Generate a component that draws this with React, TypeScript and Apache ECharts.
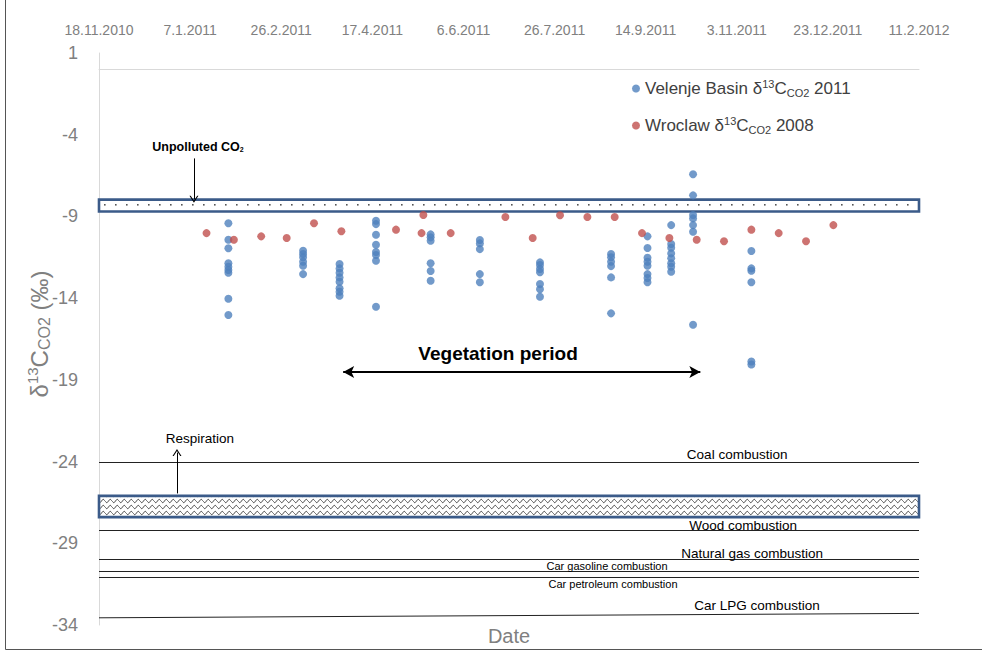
import React, { useEffect, useRef } from 'react';
import * as echarts from 'echarts';

// ---------- data ----------
const START = Date.UTC(2010, 10, 18); // 18.11.2010 = day 0 of the x axis
const X_MAX_DAYS = 450;
const X_INTERVAL_DAYS = 50;
const Y_MIN = -34;
const Y_MAX = 1;
const Y_TICKS = [-34, -29, -24, -19, -14, -9, -4, 1];

const VELENJE = 'Velenje Basin δ13CCO2 2011';
const WROCLAW = 'Wroclaw δ13CCO2 2008';

const velenjeDates = [
  '2011-01-28', '2011-03-10', '2011-03-30', '2011-04-19', '2011-05-19', '2011-06-15',
  '2011-07-18', '2011-08-26', '2011-09-15', '2011-09-28', '2011-10-10', '2011-11-11',
];
const velenjeValues = [
  [-9.42, -10.43, -10.95, -11.87, -12.08, -12.28, -12.45, -14.04, -15.03],
  [-11.1, -11.3, -11.5, -11.77, -12.02, -12.53],
  [-11.91, -12.18, -12.45, -12.73, -13.0, -13.4, -13.61, -13.85],
  [-9.26, -9.47, -10.12, -10.73, -11.18, -11.36, -11.71, -14.53],
  [-10.1, -10.28, -10.49, -11.87, -12.34, -12.94],
  [-10.44, -10.65, -11.0, -12.53, -13.03],
  [-11.81, -11.97, -12.22, -12.42, -13.14, -13.46, -13.91],
  [-11.3, -11.5, -11.77, -12.04, -12.73, -14.93],
  [-10.22, -10.93, -11.53, -11.77, -12.02, -12.53, -12.77, -13.03],
  [-9.53, -10.69, -10.92, -11.26, -11.56, -11.87, -12.08, -12.38],
  [-6.42, -7.71, -8.91, -9.12, -9.53, -9.94, -15.63],
  [-11.12, -12.18, -12.32, -13.03, -17.88, -18.06],
];

const wroclawDates = [
  '2011-01-16', '2011-01-31', '2011-02-15', '2011-03-01', '2011-03-16', '2011-03-31',
  '2011-04-30', '2011-05-14', '2011-05-15', '2011-05-30', '2011-06-29', '2011-07-14',
  '2011-07-29', '2011-08-13', '2011-08-28', '2011-09-12', '2011-09-27', '2011-10-12',
  '2011-10-27', '2011-11-11', '2011-11-26', '2011-12-11', '2011-12-26',
];
const wroclawValues = [
  -10.02, -10.43, -10.22, -10.32, -9.42, -9.91,
  -9.81, -10.02, -8.91, -10.02, -9.04, -10.32,
  -8.93, -9.04, -9.04, -10.02, -10.32, -10.43,
  -10.52, -9.81, -10.02, -10.52, -9.53,
];

// reference ranges
const unpollutedBand = [-7.97, -8.7];
const respirationBand = [-26.1, -27.4];
const sourceNames = [
  'Coal combustion', 'Wood combustion', 'Natural gas combustion',
  'Car gasoline combustion', 'Car petroleum combustion', 'Car LPG combustion',
];
const sourceValues = [-24.05, -28.23, -30.0, -30.69, -31.07, -33.56];
const lpgEndValue = -33.29;
const vegetationStart = '2011-04-01';
const vegetationEnd = '2011-10-14';

// ---------- helpers ----------
function dayOf(s: string): number {
  const [y, m, d] = s.split('-').map(Number);
  return Math.round((Date.UTC(y, m - 1, d) - START) / 86400000);
}
function formatDay(v: number): string {
  const dt = new Date(START + Math.round(v) * 86400000);
  return `${dt.getUTCDate()}.${dt.getUTCMonth() + 1}.${dt.getUTCFullYear()}`;
}
function makeDots(): HTMLCanvasElement {
  const c = document.createElement('canvas');
  c.width = 11;
  c.height = 13;
  const g = c.getContext('2d')!;
  g.fillStyle = '#ffffff';
  g.fillRect(0, 0, 11, 13);
  g.fillStyle = '#555555';
  g.fillRect(5, 9, 1.6, 1.6);
  return c;
}
function makeWaves(): HTMLCanvasElement {
  const w = 7;
  const h = 6;
  const c = document.createElement('canvas');
  c.width = w;
  c.height = h;
  const g = c.getContext('2d')!;
  g.fillStyle = '#ffffff';
  g.fillRect(0, 0, w, h);
  g.strokeStyle = '#333333';
  g.lineWidth = 1;
  g.beginPath();
  for (let i = 0; i <= 28; i++) {
    const x = (i / 28) * w;
    const y = h / 2 + 1.6 * Math.sin((x / w) * 2 * Math.PI);
    if (i === 0) g.moveTo(x, y);
    else g.lineTo(x, y);
  }
  g.stroke();
  return c;
}

const FONT = 'Liberation Sans, Arial, sans-serif';
const CHEVRON = 'path://M0,10 L5,0 L10,10 L8.6,10 L5,2.8 L1.4,10 Z';

export default function App() {
  const ref = useRef<HTMLDivElement>(null);

  useEffect(() => {
    if (!ref.current) return;
    const chart = echarts.init(ref.current, undefined, { renderer: 'svg' });

    const velenjePoints = velenjeDates.flatMap((d, i) =>
      velenjeValues[i].map((v) => [dayOf(d), v])
    );
    const wroclawPoints = wroclawDates.map((d, i) => [dayOf(d), wroclawValues[i]]);

    const supSub = {
      t: { fontSize: 17, color: '#404040', fontFamily: FONT },
      sup: { fontSize: 11, color: '#404040', fontFamily: FONT, padding: [0, 0, 10, 0] },
      sub: { fontSize: 11, color: '#404040', fontFamily: FONT, padding: [8, 0, 0, 0] },
    };

    const textMark = (text: string, day: number, value: number, size: number, bold = false) => ({
      coord: [day, value],
      value: 0,
      label: {
        show: true,
        position: 'inside',
        formatter: text,
        fontSize: size,
        fontWeight: bold ? 'bold' : 'normal',
        color: '#000',
        fontFamily: FONT,
      },
    });

    const labelDays = [350.2, 353.5, 358.4, 278.8, 282.1, 361.1];
    const labelValues = [-23.54, -27.89, -29.6, -30.4, -31.5, -32.78];
    const labelSizes = [13.5, 13.5, 13.5, 11, 11, 13.5];

    const option: any = {
      animation: false,
      backgroundColor: '#ffffff',
      grid: { left: 99, right: 63, top: 53, bottom: 26, containLabel: false },
      legend: {
        orient: 'vertical',
        left: 627,
        top: 73,
        itemWidth: 8,
        itemHeight: 8,
        itemGap: 16,
        data: [
          { name: VELENJE, icon: 'circle' },
          { name: WROCLAW, icon: 'circle' },
        ],
        formatter: (n: string) =>
          n === VELENJE
            ? '{t|Velenje Basin δ}{sup|13}{t|C}{sub|CO2}{t| 2011}'
            : '{t|Wroclaw δ}{sup|13}{t|C}{sub|CO2}{t| 2008}',
        textStyle: { rich: supSub, lineHeight: 21 },
      },
      xAxis: {
        type: 'value',
        position: 'top',
        min: 0,
        max: X_MAX_DAYS,
        interval: X_INTERVAL_DAYS,
        axisLine: { show: true, onZero: true, lineStyle: { color: '#d9d9d9', width: 1 } },
        axisTick: { show: false },
        splitLine: { show: false },
        axisLabel: {
          formatter: (v: number) => formatDay(v),
          color: '#808080',
          fontSize: 14,
          fontFamily: FONT,
          margin: 16,
        },
      },
      yAxis: {
        type: 'value',
        min: Y_MIN,
        max: Y_MAX,
        interval: 5,
        axisLine: { show: true, onZero: false, lineStyle: { color: '#d9d9d9', width: 1 } },
        axisTick: { show: false },
        splitLine: { show: false },
        axisLabel: {
          customValues: Y_TICKS,
          color: '#808080',
          fontSize: 18,
          fontFamily: FONT,
          margin: 21,
        },
      },
      graphic: [
        {
          type: 'text',
          x: 39,
          y: 334,
          rotation: Math.PI / 2,
          style: {
            text: '{n|δ}{sp|13}{n|C}{sb|CO2}{n| (‰)}',
            align: 'center',
            verticalAlign: 'middle',
            textAlign: 'center',
            textVerticalAlign: 'middle',
            rich: {
              n: { fontSize: 24, fill: '#808080', color: '#808080', fontFamily: FONT },
              sp: { fontSize: 15, fill: '#808080', color: '#808080', fontFamily: FONT, padding: [0, 0, 13, 0] },
              sb: { fontSize: 16, fill: '#808080', color: '#808080', fontFamily: FONT, padding: [10, 0, 0, 0] },
            },
          },
        },
        {
          type: 'text',
          x: 509,
          y: 636,
          style: {
            text: 'Date',
            fontSize: 20,
            fontFamily: FONT,
            fill: '#808080',
            align: 'center',
            verticalAlign: 'middle',
            textAlign: 'center',
            textVerticalAlign: 'middle',
          },
        },
        {
          type: 'line',
          shape: { x1: 5.5, y1: 0, x2: 5.5, y2: 649.5 },
          style: { stroke: '#555', lineWidth: 1 },
        },
        {
          type: 'line',
          shape: { x1: 5.5, y1: 649.5, x2: 982, y2: 649.5 },
          style: { stroke: '#555', lineWidth: 1 },
        },
      ],
      series: [
        {
          name: 'annotations',
          type: 'line',
          data: [],
          silent: true,
          markArea: {
            silent: true,
            label: { show: false },
            data: [
              [
                {
                  yAxis: unpollutedBand[0],
                  itemStyle: {
                    color: { image: makeDots(), repeat: 'repeat' },
                    borderColor: '#3b5b89',
                    borderWidth: 2.6,
                  },
                },
                { yAxis: unpollutedBand[1] },
              ],
              [
                {
                  yAxis: respirationBand[0],
                  itemStyle: {
                    color: { image: makeWaves(), repeat: 'repeat' },
                    borderColor: '#3b5b89',
                    borderWidth: 2.6,
                  },
                },
                { yAxis: respirationBand[1] },
              ],
            ],
          },
          markLine: {
            silent: true,
            symbol: ['none', 'none'],
            label: { show: false },
            lineStyle: { color: '#222', width: 1, type: 'solid' },
            data: [
              ...sourceValues.slice(0, 5).map((v) => ({ yAxis: v })),
              [
                { coord: [0, sourceValues[5]] },
                { coord: [X_MAX_DAYS, lpgEndValue] },
              ],
              [
                { coord: [dayOf(vegetationStart), -18.52], symbol: 'arrow', symbolSize: [9, 11] },
                {
                  coord: [dayOf(vegetationEnd), -18.52],
                  symbol: 'arrow',
                  symbolSize: [9, 11],
                },
              ].map((p) => ({ ...p, lineStyle: { color: '#000', width: 2 } })),
              [
                { coord: [52.1, -5.45], symbol: 'none', lineStyle: { color: '#000', width: 1 } },
                { coord: [52.1, -7.95], symbol: CHEVRON, symbolSize: [9, 7] },
              ],
              [
                { coord: [42.8, -25.95], symbol: 'none', lineStyle: { color: '#000', width: 1 } },
                { coord: [42.8, -23.45], symbol: CHEVRON, symbolSize: [9, 7] },
              ],
            ],
          },
          markPoint: {
            silent: true,
            symbol: 'circle',
            symbolSize: 1,
            itemStyle: { color: 'rgba(0,0,0,0)' },
            data: [
              ...sourceNames.map((n, i) => textMark(n, labelDays[i], labelValues[i], labelSizes[i])),
              textMark('Vegetation period', 219, -17.36, 19, true),
              textMark('Respiration', 55.4, -22.56, 13.5),
              {
                coord: [54.3, -4.75],
                value: 0,
                label: {
                  show: true,
                  position: 'inside',
                  formatter: '{b|Unpolluted CO}{s|2}',
                  rich: {
                    b: { fontSize: 12.5, fontWeight: 'bold', color: '#000', fontFamily: FONT },
                    s: { fontSize: 7, fontWeight: 'bold', color: '#000', fontFamily: FONT, padding: [5, 0, 0, 0] },
                  },
                },
              },
            ],
          },
        },
        {
          name: VELENJE,
          type: 'scatter',
          data: velenjePoints,
          symbolSize: 8,
          itemStyle: { color: '#4F81BD' },
          z: 3,
        },
        {
          name: WROCLAW,
          type: 'scatter',
          data: wroclawPoints,
          symbolSize: 8,
          itemStyle: { color: '#C0504D' },
          z: 4,
        },
      ],
    };

    chart.setOption(option);
    return () => chart.dispose();
  }, []);

  return (
    <div
      ref={ref}
      style={{ position: 'fixed', left: 0, top: 0, width: 982, height: 651, background: '#fff' }}
    />
  );
}
